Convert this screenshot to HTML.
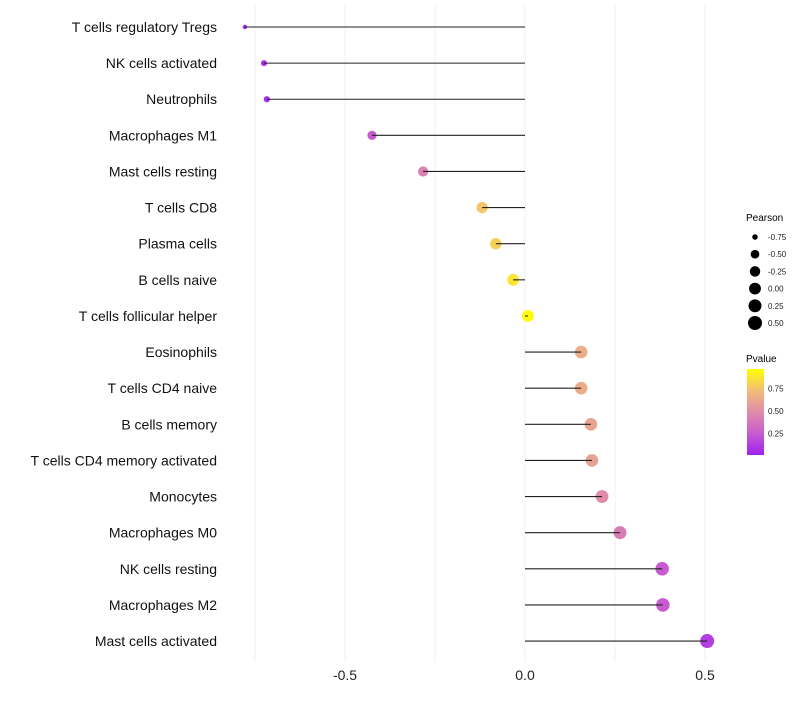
<!DOCTYPE html>
<html><head><meta charset="utf-8"><style>
body{margin:0;background:#fff;font-family:"Liberation Sans",sans-serif;}
</style></head><body>
<svg id="chart" width="800" height="700" xmlns="http://www.w3.org/2000/svg" font-family="Liberation Sans, sans-serif">
<defs>
<linearGradient id="pg" x1="0" y1="1" x2="0" y2="0">
<stop offset="0" stop-color="#A020F0"/>
<stop offset="0.25" stop-color="#C65CCF"/>
<stop offset="0.5" stop-color="#E08CA8"/>
<stop offset="0.75" stop-color="#F2BD78"/>
<stop offset="1" stop-color="#FFFF00"/>
</linearGradient>
</defs>
<g id="grid"></g><g id="points"></g><g id="marks"></g><g id="labels"></g>
<g>
<text x="746" y="221" font-size="10">Pearson</text>
<g id="sizeleg"></g>
</g>
<g>
<text x="746" y="362" font-size="10">Pvalue</text>
<rect x="747" y="369" width="17" height="86" fill="url(#pg)"/>
<g id="cbticks"></g>
</g>
</svg>
<script>
const categories=["T cells regulatory  Tregs","NK cells activated","Neutrophils","Macrophages M1","Mast cells resting","T cells CD8","Plasma cells","B cells naive","T cells follicular helper","Eosinophils","T cells CD4 naive","B cells memory","T cells CD4 memory activated","Monocytes","Macrophages M0","NK cells resting","Macrophages M2","Mast cells activated"];
const pearson=[-0.778,-0.725,-0.717,-0.425,-0.283,-0.119,-0.081,-0.033,0.008,0.156,0.156,0.183,0.186,0.214,0.264,0.381,0.383,0.506];
const pvalues=[0.03,0.05,0.05,0.25,0.45,0.78,0.82,0.90,0.98,0.66,0.66,0.62,0.61,0.50,0.42,0.25,0.25,0.12];
const xTicks=[-0.5,0,0.5];
const xTickLabels=["-0.5","0.0","0.5"];
const gridVals=[-0.75,-0.5,-0.25,0,0.25,0.5];
const sizeLegVals=[-0.75,-0.5,-0.25,0,0.25,0.5];
const sizeLegLabels=["-0.75","-0.50","-0.25","0.00","0.25","0.50"];
const cbVals=[0.25,0.5,0.75];
const cbLabels=["0.25","0.50","0.75"];

const NS="http://www.w3.org/2000/svg";
const x=v=>525+v*360;
const y=i=>27+i*36.12;
const r=v=>2+5*Math.sqrt(Math.max(0,(v+0.78)/1.28));
const stops=[[0,[160,32,240]],[0.25,[198,92,207]],[0.5,[224,140,168]],[0.75,[242,189,120]],[1,[255,255,0]]];
function col(p){for(let k=1;k<stops.length;k++){if(p<=stops[k][0]){const a=stops[k-1],b=stops[k];const t=(p-a[0])/(b[0]-a[0]);const c=a[1].map((v,j)=>Math.round(v+(b[1][j]-v)*t));return `rgb(${c})`;}}return "rgb(255,255,0)";}
function mk(tag,at,parent){const e=document.createElementNS(NS,tag);for(const k in at)e.setAttribute(k,at[k]);parent.appendChild(e);return e;}
const grid=document.getElementById('grid'),marks=document.getElementById('marks'),points=document.getElementById('points'),labels=document.getElementById('labels');
gridVals.forEach(v=>{const l=mk('line',{x1:x(v),x2:x(v),y1:5,y2:662,stroke:'#f0f0f0','stroke-width':1},grid);

});
xTicks.forEach((v,i)=>{const t=mk('text',{x:x(v),y:680,'font-size':14,'text-anchor':'middle',fill:'#222'},labels);t.textContent=xTickLabels[i];

});
categories.forEach((c,i)=>{
const t=mk('text',{x:217,y:y(i)+5,'font-size':14,'text-anchor':'end',fill:'#111'},labels);t.textContent=c;


const p=mk('circle',{cx:x(pearson[i]),cy:y(i),r:r(pearson[i]),fill:col(pvalues[i])},points);


const l=mk('line',{x1:x(0),x2:x(pearson[i]),y1:y(i),y2:y(i),stroke:'#222','stroke-width':1.1},marks);


});
const sl=document.getElementById('sizeleg');
sizeLegVals.forEach((v,i)=>{const cy=237+i*17.2;
const c=mk('circle',{cx:755,cy:cy,r:r(v),fill:'#000'},sl);


const t=mk('text',{x:768,y:cy+3,'font-size':8,fill:'#222'},sl);t.textContent=sizeLegLabels[i];

});
const cb=document.getElementById('cbticks');
cbVals.forEach((v,i)=>{const yy=456-v*90;
const t=mk('text',{x:768,y:yy+3,'font-size':8,fill:'#222'},cb);t.textContent=cbLabels[i];

});
</script>
</body></html>
